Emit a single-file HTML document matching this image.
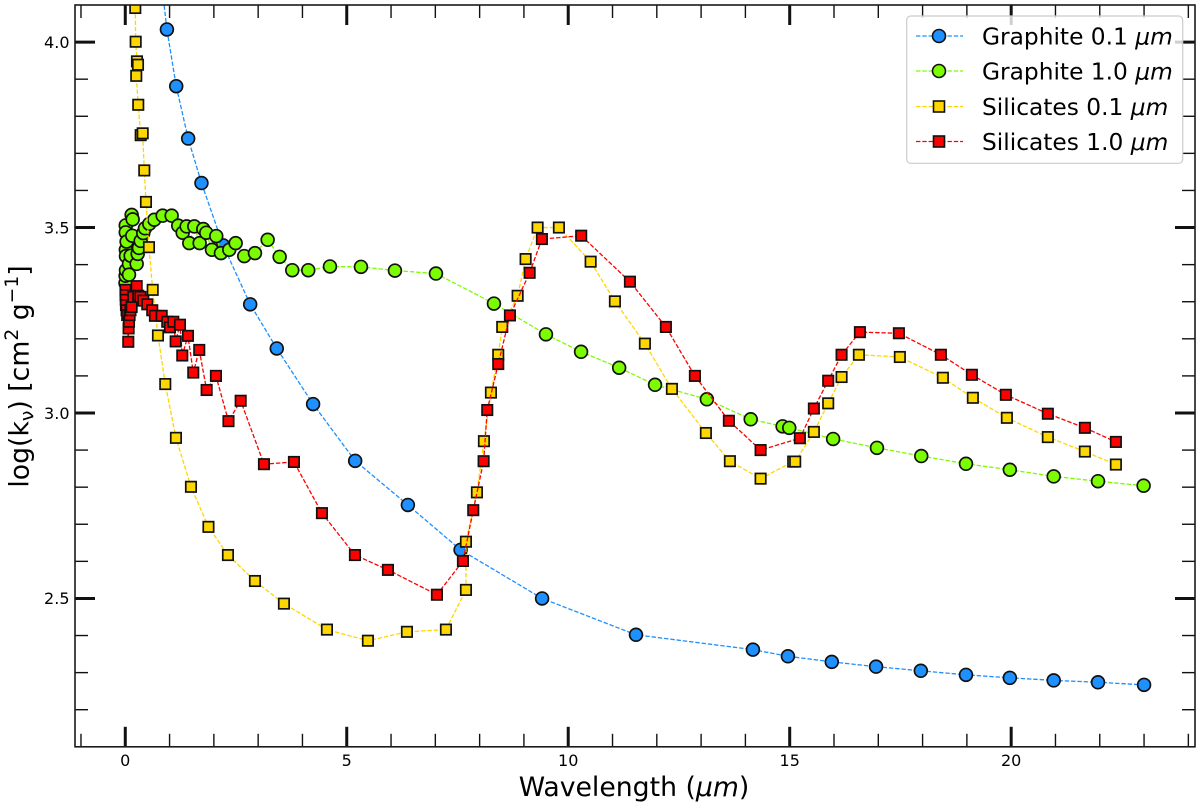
<!DOCTYPE html>
<html lang="en">
<head>
<meta charset="utf-8">
<title>Opacity vs Wavelength</title>
<style>
html,body{margin:0;padding:0;background:#fff;}
svg{display:block;}
text{font-family:"DejaVu Sans","Liberation Sans",sans-serif;fill:#000;}
</style>
</head>
<body>
<svg id="chart" xmlns="http://www.w3.org/2000/svg" width="1200" height="808" viewBox="0 0 1200 808">
  <defs><clipPath id="plot-clip"><rect x="75" y="5" width="1120" height="741.8"/></clipPath></defs>
  <g id="ticks"></g>
  <g id="series" clip-path="url(#plot-clip)"></g>
  <rect x="75" y="5" width="1120" height="741.8" fill="none" stroke="#1a1a1a" stroke-width="1.6"/>
  <g id="tick-labels"></g>

  <text x="634" y="796" font-size="26.7" text-anchor="middle">Wavelength (<tspan font-style="italic">μm</tspan>)</text>
  <text transform="translate(28.5,376.5) rotate(-90)" font-size="26.7" text-anchor="middle">log(k<tspan font-size="18.7" dy="5">ν</tspan><tspan dy="-5">) [cm</tspan><tspan font-size="18.7" dy="-10.5">2</tspan><tspan dy="10.5"> g</tspan><tspan font-size="18.7" dy="-10.5">−1</tspan><tspan dy="10.5">]</tspan></text>

  <g>
    <rect x="906.7" y="16" width="276" height="147.3" rx="4" fill="#fff" fill-opacity="0.8" stroke="#ccc" stroke-width="1.2"/>
    <g>
      <line x1="916" x2="963" y1="36" y2="36" stroke="#1e90ff" stroke-width="1.2" stroke-dasharray="4.4 1.9"/>
      <circle cx="939" cy="36" r="6.5" fill="#1e90ff" stroke="#111" stroke-width="1.6"/>
      <text x="982" y="44.5" font-size="23.3">Graphite 0.1 <tspan font-style="italic">μm</tspan></text>
    </g>
    <g>
      <line x1="916" x2="963" y1="71" y2="71" stroke="#7cfc00" stroke-width="1.2" stroke-dasharray="4.4 1.9"/>
      <circle cx="939" cy="71" r="6.5" fill="#7cfc00" stroke="#111" stroke-width="1.6"/>
      <text x="982" y="79.5" font-size="23.3">Graphite 1.0 <tspan font-style="italic">μm</tspan></text>
    </g>
    <g>
      <line x1="916" x2="963" y1="106.5" y2="106.5" stroke="#ffd700" stroke-width="1.2" stroke-dasharray="4.4 1.9"/>
      <rect x="933.5" y="101" width="11" height="11" fill="#ffd700" stroke="#111" stroke-width="1.6"/>
      <text x="982" y="115" font-size="23.3">Silicates 0.1 <tspan font-style="italic">μm</tspan></text>
    </g>
    <g>
      <line x1="916" x2="963" y1="141.5" y2="141.5" stroke="#ff0000" stroke-width="1.2" stroke-dasharray="4.4 1.9"/>
      <rect x="933.5" y="136" width="11" height="11" fill="#ff0000" stroke="#111" stroke-width="1.6"/>
      <text x="982" y="150" font-size="23.3">Silicates 1.0 <tspan font-style="italic">μm</tspan></text>
    </g>
  </g>
</svg>
<script>
// Tick values
const xMajorTicks = [0, 5, 10, 15, 20];
const xMinorTicks = [-1, 1, 2, 3, 4, 6, 7, 8, 9, 11, 12, 13, 14, 16, 17, 18, 19, 21, 22, 23, 24];
const yMajorTicks = [2.5, 3.0, 3.5, 4.0];
const yMinorTicks = [2.1, 2.2, 2.3, 2.4, 2.6, 2.7, 2.8, 2.9, 3.1, 3.2, 3.3, 3.4, 3.6, 3.7, 3.8, 3.9];
const xTickLabels = ['0', '5', '10', '15', '20'];
const yTickLabels = ['2.5', '3.0', '3.5', '4.0'];

// Graphite 0.1 um
const graphite01X = [0.78, 0.94, 1.15, 1.42, 1.72, 2.21, 2.82, 3.42, 4.24, 5.19, 6.38, 7.57, 9.41, 11.53, 14.17, 14.96, 15.95, 16.95, 17.96, 18.98, 19.97, 20.96, 21.96, 23.0];
const graphite01Y = [4.2, 4.034, 3.881, 3.74, 3.62, 3.452, 3.293, 3.174, 3.024, 2.871, 2.752, 2.631, 2.5, 2.402, 2.362, 2.344, 2.329, 2.316, 2.305, 2.294, 2.286, 2.279, 2.274, 2.267];

// Graphite 1.0 um
const graphite10X = [0.005, 0.008, 0.011, 0.011, 0.013, 0.016, 0.016, 0.03, 0.084, 0.084, 0.122, 0.144, 0.158, 0.167, 0.257, 0.28, 0.309, 0.348, 0.406, 0.445, 0.542, 0.655, 0.844, 1.047, 1.196, 1.296, 1.386, 1.445, 1.558, 1.679, 1.761, 1.828, 1.957, 2.054, 2.16, 2.348, 2.492, 2.686, 2.928, 3.214, 3.485, 3.77, 4.131, 4.621, 5.321, 6.088, 7.014, 8.323, 9.497, 10.29, 11.15, 11.96, 13.13, 14.12, 14.84, 14.99, 15.98, 16.97, 17.97, 18.98, 19.97, 20.96, 21.96, 22.99];
const graphite10Y = [3.35, 3.37, 3.506, 3.487, 3.44, 3.423, 3.385, 3.462, 3.402, 3.373, 3.424, 3.534, 3.478, 3.522, 3.402, 3.429, 3.445, 3.464, 3.485, 3.498, 3.51, 3.521, 3.532, 3.532, 3.505, 3.486, 3.503, 3.458, 3.503, 3.458, 3.496, 3.486, 3.44, 3.477, 3.431, 3.44, 3.458, 3.423, 3.431, 3.467, 3.421, 3.385, 3.385, 3.395, 3.394, 3.384, 3.376, 3.295, 3.212, 3.165, 3.122, 3.076, 3.037, 2.983, 2.964, 2.96, 2.93, 2.906, 2.884, 2.863, 2.847, 2.829, 2.816, 2.804];

// Silicates 0.1 um
const silicates01X = [0.226, 0.235, 0.264, 0.287, 0.248, 0.293, 0.348, 0.393, 0.429, 0.467, 0.535, 0.619, 0.738, 0.903, 1.144, 1.483, 1.878, 2.318, 2.928, 3.582, 4.553, 5.478, 6.359, 7.239, 7.691, 7.691, 7.939, 8.097, 8.255, 8.42, 8.51, 8.858, 9.038, 9.309, 9.79, 10.506, 11.054, 11.731, 12.341, 13.108, 13.65, 14.343, 15.079, 15.124, 15.546, 15.869, 16.171, 16.562, 17.487, 18.458, 19.135, 19.903, 20.828, 21.664, 22.364];
const silicates01Y = [4.092, 4.001, 3.948, 3.939, 3.909, 3.831, 3.749, 3.754, 3.654, 3.569, 3.447, 3.332, 3.209, 3.078, 2.933, 2.801, 2.693, 2.617, 2.547, 2.486, 2.416, 2.386, 2.41, 2.416, 2.523, 2.653, 2.786, 2.924, 3.055, 3.157, 3.232, 3.316, 3.415, 3.5, 3.5, 3.408, 3.301, 3.187, 3.065, 2.946, 2.87, 2.823, 2.869, 2.869, 2.949, 3.026, 3.097, 3.157, 3.151, 3.095, 3.041, 2.987, 2.935, 2.896, 2.861];

// Silicates 1.0 um
const silicates10X = [0.005, 0.007, 0.011, 0.016, 0.03, 0.043, 0.068, 0.075, 0.084, 0.097, 0.117, 0.144, 0.181, 0.257, 0.293, 0.343, 0.406, 0.497, 0.609, 0.67, 0.822, 0.948, 1.009, 1.084, 1.138, 1.235, 1.287, 1.415, 1.535, 1.67, 1.837, 2.047, 2.33, 2.605, 3.131, 3.808, 4.44, 5.185, 5.93, 7.036, 7.623, 7.856, 8.09, 8.172, 8.42, 8.684, 9.129, 9.406, 10.293, 11.393, 12.205, 12.86, 13.627, 14.343, 15.23, 15.546, 15.869, 16.171, 16.585, 17.465, 18.413, 19.113, 19.88, 20.828, 21.664, 22.364];
const silicates10Y = [3.332, 3.318, 3.305, 3.291, 3.277, 3.264, 3.192, 3.228, 3.246, 3.264, 3.277, 3.286, 3.313, 3.342, 3.316, 3.313, 3.303, 3.293, 3.277, 3.262, 3.262, 3.246, 3.231, 3.246, 3.193, 3.238, 3.155, 3.208, 3.109, 3.17, 3.062, 3.1, 2.978, 3.033, 2.862, 2.868, 2.73, 2.617, 2.577, 2.51, 2.601, 2.738, 2.87, 3.008, 3.132, 3.263, 3.378, 3.469, 3.478, 3.354, 3.232, 3.1, 2.979, 2.9, 2.932, 3.012, 3.087, 3.157, 3.218, 3.215, 3.157, 3.103, 3.049, 2.998, 2.96, 2.922];

const SVG_NS = 'http://www.w3.org/2000/svg';
const xMin = -1.135, xMax = 24.15, yMin = 2.1, yMax = 4.1;
const plotLeft = 75, plotRight = 1195, plotTop = 5, plotBottom = 746.8;

function xScale(v) { return plotLeft + (v - xMin) / (xMax - xMin) * (plotRight - plotLeft); }
function yScale(v) { return plotBottom - (v - yMin) / (yMax - yMin) * (plotBottom - plotTop); }

function make(tag, attrs, parent) {
  const el = document.createElementNS(SVG_NS, tag);
  Object.keys(attrs).forEach(function (k) { el.setAttribute(k, attrs[k]); });
  parent.appendChild(el);
  return el;
}

const tickGroup = document.getElementById('ticks');
const labelGroup = document.getElementById('tick-labels');
const seriesGroup = document.getElementById('series');

function drawXTick(v, len, w) {
  const x = xScale(v);
  const bottomTick = make('line', { x1: x, x2: x, y1: plotBottom, y2: plotBottom - len, stroke: '#111', 'stroke-width': w }, tickGroup);
  
  
  const topTick = make('line', { x1: x, x2: x, y1: plotTop, y2: plotTop + len, stroke: '#111', 'stroke-width': w }, tickGroup);
  
  
}
function drawYTick(v, len, w) {
  const y = yScale(v);
  const leftTick = make('line', { x1: plotLeft, x2: plotLeft + len, y1: y, y2: y, stroke: '#111', 'stroke-width': w }, tickGroup);
  
  
  const rightTick = make('line', { x1: plotRight, x2: plotRight - len, y1: y, y2: y, stroke: '#111', 'stroke-width': w }, tickGroup);
  
  
}

xMinorTicks.forEach(function (v) { drawXTick(v, 13, 1.4); });
xMajorTicks.forEach(function (v) { drawXTick(v, 20, 3); });
yMinorTicks.forEach(function (v) { drawYTick(v, 13, 1.4); });
yMajorTicks.forEach(function (v) { drawYTick(v, 20, 3); });

xMajorTicks.forEach(function (v, i) {
  const t = make('text', { x: xScale(v), y: 766, 'font-size': 16, 'text-anchor': 'middle' }, labelGroup);
  t.textContent = xTickLabels[i];
  
  
});
yMajorTicks.forEach(function (v, i) {
  const t = make('text', { x: 69.5, y: yScale(v) + 5.8, 'font-size': 16, 'text-anchor': 'end' }, labelGroup);
  t.textContent = yTickLabels[i];
  
  
});

function drawSeries(xs, ys, color, shape, name) {
  const g = make('g', {}, seriesGroup);
  
  
  const pts = xs.map(function (x, i) { return xScale(x).toFixed(2) + ',' + yScale(ys[i]).toFixed(2); }).join(' ');
  const line = make('polyline', { points: pts, fill: 'none', stroke: color, 'stroke-width': 1.3, 'stroke-dasharray': '4.4 1.9' }, g);
  
  
  xs.forEach(function (x, i) {
    const cx = xScale(x), cy = yScale(ys[i]);
    let m;
    if (shape === 'circle') {
      m = make('circle', { cx: cx, cy: cy, r: 6.4, fill: color, stroke: '#111', 'stroke-width': 1.7 }, g);
    } else {
      m = make('rect', { x: cx - 5.2, y: cy - 5.2, width: 10.4, height: 10.4, fill: color, stroke: '#111', 'stroke-width': 1.7 }, g);
    }
    
    
  });
}

drawSeries(graphite01X, graphite01Y, '#1e90ff', 'circle', 'graphite-0-1-series');
drawSeries(graphite10X, graphite10Y, '#7cfc00', 'circle', 'graphite-1-0-series');
drawSeries(silicates01X, silicates01Y, '#ffd700', 'square', 'silicates-0-1-series');
drawSeries(silicates10X, silicates10Y, '#ff0000', 'square', 'silicates-1-0-series');
</script>
</body>
</html>
